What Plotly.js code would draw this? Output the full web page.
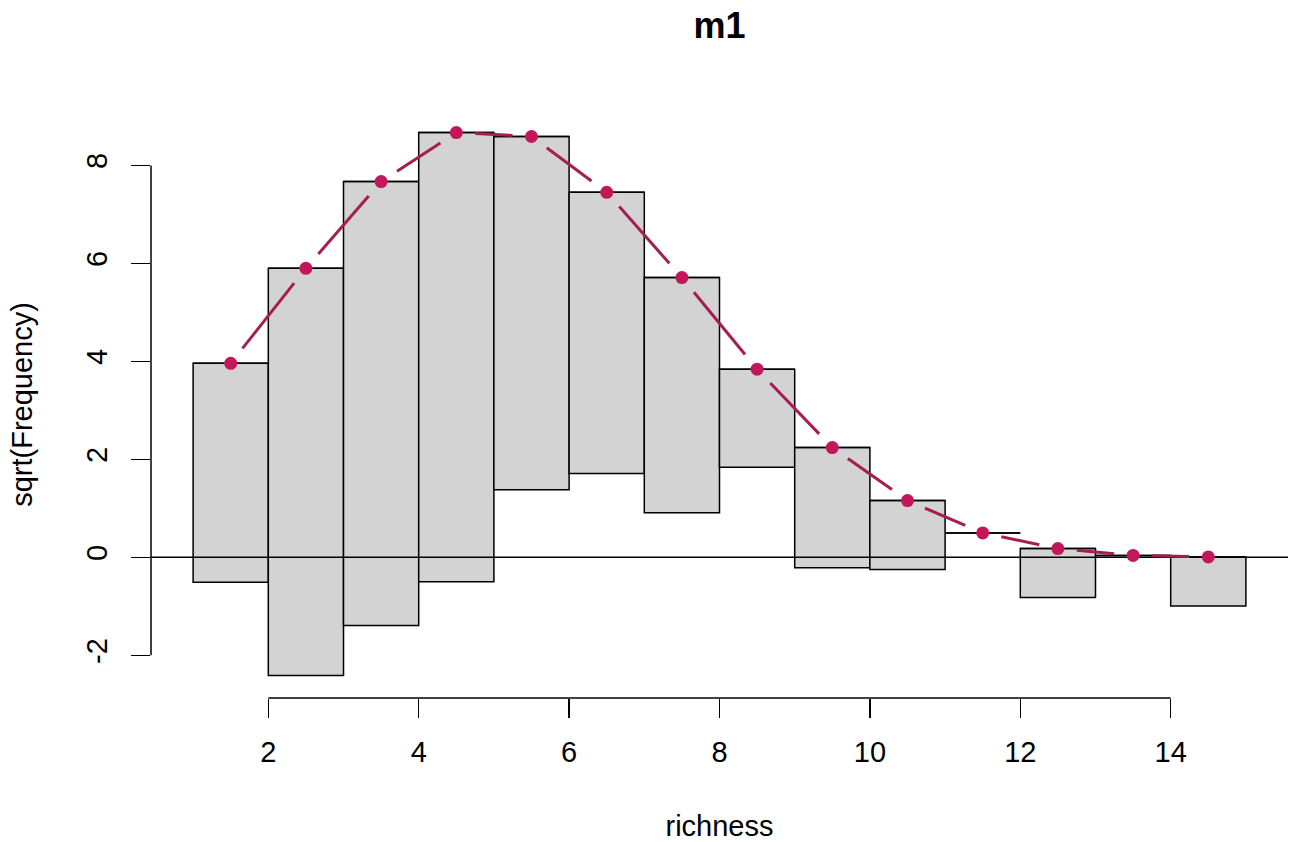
<!DOCTYPE html>
<html>
<head>
<meta charset="utf-8">
<script src="https://cdn.plot.ly/plotly-3.0.1.min.js"></script>
<style>html,body{margin:0;padding:0;background:#fff;}#chart{width:1295px;height:842px;}</style>
</head>
<body>
<div id="chart"></div>
<script>
// Bins of richness (left edges) and rootogram values
const binLeft = [1, 2, 3, 4, 5, 6, 7, 8, 9, 10, 11, 12, 13, 14];
const binCenter = [1.5, 2.5, 3.5, 4.5, 5.5, 6.5, 7.5, 8.5, 9.5, 10.5, 11.5, 12.5, 13.5, 14.5];
// sqrt(expected frequency) — the fitted curve / bar tops
const sqrtExpected = [3.96, 5.90, 7.67, 8.67, 8.59, 7.45, 5.71, 3.84, 2.24, 1.16, 0.50, 0.18, 0.04, 0.01];
// sqrt(observed frequency) — hanging bar heights
const sqrtObserved = [4.47, 8.31, 9.06, 9.17, 7.21, 5.74, 4.80, 2.00, 2.45, 1.41, 0.00, 1.00, 0.00, 1.00];
const xTicks = [2, 4, 6, 8, 10, 12, 14];
const yTicks = [-2, 0, 2, 4, 6, 8];

const W = 1295, H = 842;
const M = {l: 151, r: 7, t: 111, b: 144};
const xRange = [0.44, 15.56];
const yRange = [-2.87, 9.11];
const FONT = 'Liberation Sans, Arial, sans-serif';

const barBase = sqrtExpected.map((e, i) => e - sqrtObserved[i]);

// bar top edges (so zero-height bars still show as a line)
const topX = [], topY = [];
binLeft.forEach((b, i) => { topX.push(b, b + 1, null); topY.push(sqrtExpected[i], sqrtExpected[i], null); });

// R type="b": line segments with gaps around the points
const pxX = (W - M.l - M.r) / (xRange[1] - xRange[0]);
const pxY = (H - M.t - M.b) / (yRange[1] - yRange[0]);
const GAP = 19;
const segX = [], segY = [];
for (let i = 0; i < binCenter.length - 1; i++) {
  const x1 = binCenter[i], y1 = sqrtExpected[i], x2 = binCenter[i + 1], y2 = sqrtExpected[i + 1];
  const L = Math.hypot((x2 - x1) * pxX, (y2 - y1) * pxY);
  if (L <= 2 * GAP) continue;
  const t = GAP / L;
  segX.push(x1 + (x2 - x1) * t, x2 - (x2 - x1) * t, null);
  segY.push(y1 + (y2 - y1) * t, y2 - (y2 - y1) * t, null);
}

const traces = [
  {type: 'bar', x: binCenter, y: sqrtObserved, base: barBase, width: 1,
   marker: {color: '#D3D3D3', line: {color: '#000', width: 1.5}}, hoverinfo: 'skip'},
  {type: 'scatter', mode: 'lines', x: topX, y: topY, line: {color: '#000', width: 1.5}, hoverinfo: 'skip'},
  {type: 'scatter', mode: 'lines', x: xRange, y: [0, 0], line: {color: '#000', width: 1.5}, hoverinfo: 'skip'},
  {type: 'scatter', mode: 'lines', x: segX, y: segY, line: {color: '#A51E52', width: 3}, hoverinfo: 'skip'},
  {type: 'scatter', mode: 'markers', x: binCenter, y: sqrtExpected,
   marker: {color: '#C2185B', size: 13}, hoverinfo: 'skip'}
];

const layout = {
  width: W, height: H, margin: M, showlegend: false,
  paper_bgcolor: '#fff', plot_bgcolor: '#fff',
  font: {family: FONT, size: 29, color: '#000'},
  title: {text: '<b>m1</b>', font: {family: FONT, size: 36, color: '#000'},
          x: 0.5, xref: 'paper', y: 1 - 25 / H, yref: 'container', yanchor: 'middle'},
  bargap: 0,
  xaxis: {range: xRange, showgrid: false, zeroline: false, showline: false,
          tickmode: 'array', tickvals: xTicks, ticktext: xTicks.map(String),
          ticks: 'outside', ticklen: 19, tickwidth: 1.5, tickcolor: '#000',
          ticklabelstandoff: 9,
          tickfont: {family: FONT, size: 29, color: '#000'},
          title: {text: 'richness', font: {family: FONT, size: 29, color: '#000'}, standoff: 51}},
  yaxis: {range: yRange, showgrid: false, zeroline: false, showline: false,
          tickmode: 'array', tickvals: yTicks, ticktext: yTicks.map(String),
          ticks: 'outside', ticklen: 19, tickwidth: 1.5, tickcolor: '#000',
          tickangle: -90, ticklabelstandoff: 12,
          tickfont: {family: FONT, size: 29, color: '#000'},
          title: {text: 'sqrt(Frequency)', font: {family: FONT, size: 29, color: '#000'}, standoff: 40}},
  shapes: [
    {type: 'line', xref: 'x', yref: 'paper', x0: xTicks[0], x1: xTicks[xTicks.length - 1], y0: 0, y1: 0,
     line: {color: '#000', width: 1.5}},
    {type: 'line', xref: 'paper', yref: 'y', x0: 0, x1: 0, y0: yTicks[0], y1: yTicks[yTicks.length - 1],
     line: {color: '#000', width: 1.5}}
  ]
};

Plotly.newPlot('chart', traces, layout, {staticPlot: true, displayModeBar: false});
</script>
</body>
</html>
